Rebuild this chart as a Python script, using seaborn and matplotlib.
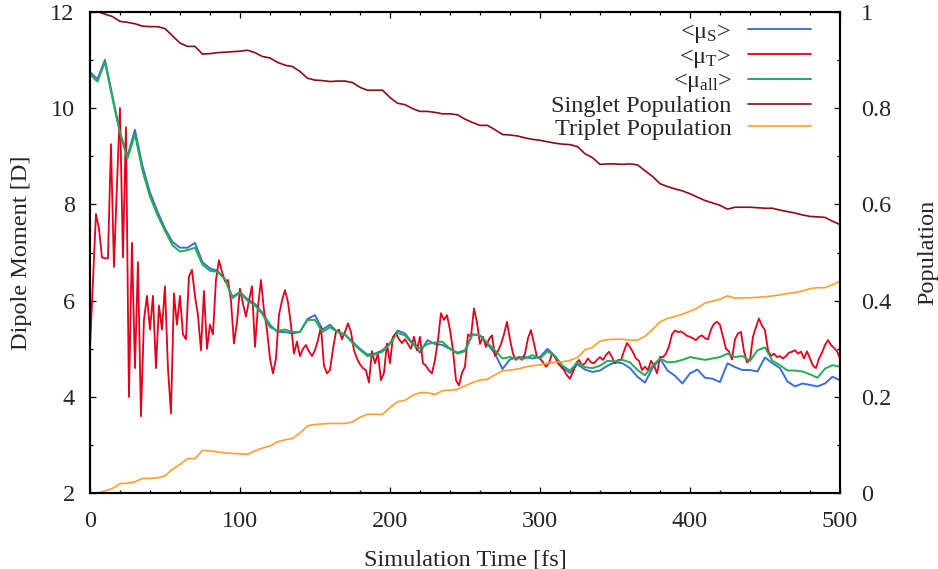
import numpy as np
import matplotlib
matplotlib.use("Agg")
import matplotlib.pyplot as plt
import seaborn as sns
from matplotlib.ticker import MultipleLocator, FuncFormatter

# Average dipole moments [D], sampled every 5 fs (singlet / all) and 2 fs (triplet)
mu_S = [
    10.75, 10.6, 11.0, 10.25, 9.5, 9.0, 9.55, 8.8, 8.25, 7.85,
    7.5, 7.22, 7.1, 7.1, 7.2, 6.8, 6.67, 6.62, 6.45, 6.08,
    6.18, 6.03, 5.93, 5.75, 5.5, 5.35, 5.35, 5.32, 5.35, 5.62,
    5.7, 5.4, 5.5, 5.35, 5.3, 5.15, 5.0, 4.88, 4.9, 4.97,
    5.12, 5.38, 5.32, 5.12, 4.92, 5.18, 5.1, 5.08, 5.0, 4.92,
    4.97, 5.3, 5.28, 5.1, 4.9, 4.58, 4.78, 4.82, 4.83, 4.8,
    4.83, 5.0, 4.85, 4.62, 4.5, 4.68, 4.57, 4.52, 4.55, 4.65,
    4.72, 4.7, 4.6, 4.42, 4.3, 4.6, 4.8, 4.55, 4.44, 4.28,
    4.49, 4.57, 4.4, 4.38, 4.31, 4.7, 4.62, 4.56, 4.56, 4.53,
    4.82, 4.7, 4.6, 4.32, 4.22, 4.28, 4.25, 4.22, 4.28, 4.42,
    4.35,
]

mu_T = [
    5.0, 6.4, 7.8, 7.5, 6.9, 6.88, 6.88, 9.25, 6.7, 8.4,
    10.0, 6.9, 9.6, 4.0, 7.2, 4.6, 6.8, 3.6, 5.6, 6.1,
    5.4, 6.1, 4.6, 5.9, 5.4, 6.3, 4.6, 3.66, 6.15, 5.5,
    6.1, 5.3, 5.2, 6.5, 6.64, 6.1, 5.7, 4.97, 6.2, 5.0,
    5.5, 5.3, 6.43, 6.84, 6.6, 6.4, 6.43, 6.0, 5.11, 5.55,
    6.25, 5.94, 5.67, 6.0, 6.3, 5.04, 5.87, 6.43, 5.8, 5.4,
    4.8, 4.49, 4.8, 5.7, 6.0, 6.22, 5.97, 5.5, 4.9, 5.15,
    4.85, 5.0, 5.08, 4.95, 4.85, 4.97, 5.18, 5.46, 4.65, 4.49,
    4.56, 5.0, 5.35, 5.4, 5.2, 5.35, 5.53, 5.35, 4.97, 4.8,
    4.68, 4.6, 4.55, 4.3, 4.95, 4.7, 4.9, 4.35, 4.5, 5.11,
    4.7, 5.25, 5.32, 5.2, 5.12, 5.2, 5.1, 5.0, 5.25, 4.97,
    5.25, 4.7, 4.65, 4.55, 4.49, 4.77, 5.18, 5.74, 5.6, 5.7,
    5.4, 4.97, 4.35, 4.24, 4.5, 4.63, 5.3, 5.25, 5.84, 5.55,
    5.1, 5.25, 5.04, 5.2, 5.28, 4.85, 4.95, 5.1, 5.3, 5.56,
    5.2, 4.9, 4.77, 4.83, 4.77, 4.9, 5.22, 5.39, 5.11, 4.83,
    4.8, 4.72, 4.63, 4.7, 4.9, 4.83, 4.7, 4.63, 4.56, 4.45,
    4.38, 4.52, 4.7, 4.77, 4.66, 4.7, 4.8, 4.72, 4.7, 4.77,
    4.83, 4.77, 4.87, 4.94, 4.83, 4.7, 4.77, 4.77, 4.95, 5.12,
    5.04, 4.93, 4.8, 4.75, 4.56, 4.63, 4.56, 4.75, 4.66, 4.49,
    4.83, 4.83, 4.9, 5.05, 5.3, 5.38, 5.35, 5.36, 5.32, 5.27,
    5.25, 5.22, 5.18, 5.25, 5.28, 5.22, 5.2, 5.4, 5.52, 5.56,
    5.5, 5.25, 5.0, 4.95, 4.78, 5.2, 5.32, 5.35, 4.95, 4.72,
    4.77, 5.25, 5.45, 5.63, 5.48, 5.39, 4.97, 4.85, 4.9, 4.83,
    4.85, 4.8, 4.85, 4.92, 4.94, 4.97, 4.9, 4.94, 4.8, 4.95,
    4.8, 4.65, 4.6, 4.8, 4.92, 5.08, 5.18, 5.08, 5.02, 4.95,
    4.8,
]

mu_all = [
    10.7, 10.55, 10.95, 10.2, 9.48, 8.95, 9.45, 8.7, 8.16, 7.78,
    7.45, 7.15, 7.02, 7.05, 7.1, 6.75, 6.62, 6.6, 6.45, 6.05,
    6.17, 6.0, 5.9, 5.72, 5.45, 5.38, 5.4, 5.35, 5.35, 5.6,
    5.6, 5.35, 5.45, 5.35, 5.3, 5.12, 4.98, 4.85, 4.88, 4.94,
    5.1, 5.33, 5.28, 5.1, 5.0, 5.1, 5.13, 5.15, 5.0, 4.9,
    4.95, 5.3, 5.28, 5.12, 4.97, 4.8, 4.83, 4.8, 4.8, 4.87,
    4.8, 4.95, 4.85, 4.65, 4.55, 4.72, 4.62, 4.6, 4.65, 4.75,
    4.74, 4.77, 4.72, 4.56, 4.45, 4.65, 4.8, 4.72, 4.73, 4.77,
    4.83, 4.8, 4.77, 4.8, 4.83, 4.9, 4.83, 4.85, 4.75, 4.97,
    5.03, 4.75, 4.66, 4.55, 4.55, 4.53, 4.47, 4.4, 4.59, 4.66,
    4.63,
]

# State populations, sampled every 5 fs
pop_singlet = [
    1.000, 1.000, 0.995, 0.990, 0.980, 0.978, 0.975, 0.970, 0.969, 0.969,
    0.965, 0.950, 0.935, 0.928, 0.928, 0.912, 0.913, 0.915, 0.916, 0.917,
    0.918, 0.920, 0.915, 0.907, 0.904, 0.895, 0.889, 0.886, 0.876, 0.862,
    0.858, 0.857, 0.855, 0.856, 0.856, 0.853, 0.843, 0.837, 0.837, 0.837,
    0.822, 0.810, 0.807, 0.799, 0.793, 0.793, 0.791, 0.788, 0.788, 0.786,
    0.777, 0.770, 0.764, 0.764, 0.755, 0.745, 0.744, 0.742, 0.738, 0.735,
    0.733, 0.730, 0.727, 0.725, 0.724, 0.720, 0.705, 0.697, 0.683, 0.684,
    0.684, 0.683, 0.684, 0.682, 0.670, 0.658, 0.643, 0.637, 0.632, 0.628,
    0.622, 0.615, 0.608, 0.603, 0.598, 0.590, 0.594, 0.594, 0.594, 0.593,
    0.592, 0.592, 0.588, 0.585, 0.582, 0.578, 0.575, 0.574, 0.573, 0.565,
    0.558,
]

pop_triplet = [
    0.000, 0.000, 0.005, 0.010, 0.020, 0.021, 0.024, 0.031, 0.031, 0.032,
    0.036, 0.050, 0.060, 0.072, 0.072, 0.089, 0.088, 0.086, 0.084, 0.083,
    0.082, 0.081, 0.088, 0.094, 0.098, 0.107, 0.111, 0.114, 0.125, 0.140,
    0.143, 0.144, 0.145, 0.145, 0.145, 0.148, 0.158, 0.164, 0.164, 0.164,
    0.178, 0.190, 0.193, 0.203, 0.209, 0.209, 0.205, 0.213, 0.214, 0.216,
    0.223, 0.230, 0.235, 0.237, 0.246, 0.254, 0.256, 0.258, 0.262, 0.265,
    0.267, 0.270, 0.272, 0.273, 0.276, 0.282, 0.298, 0.303, 0.316, 0.319,
    0.320, 0.320, 0.318, 0.318, 0.326, 0.340, 0.356, 0.363, 0.367, 0.372,
    0.378, 0.385, 0.395, 0.399, 0.403, 0.410, 0.405, 0.406, 0.406, 0.407,
    0.408, 0.410, 0.412, 0.415, 0.417, 0.420, 0.425, 0.427, 0.427, 0.433,
    0.440,
]

T_END = 500.0
series_labels = [
    r"<$\mathrm{\mu_{S}}$>",
    r"<$\mathrm{\mu_{T}}$>",
    r"<$\mathrm{\mu_{all}}$>",
    "Singlet Population",
    "Triplet Population",
]
colors = ["#3d6fd1", "#e2001c", "#23ad52", "#8c0c14", "#ff9e2c"]

sns.set_theme(style="ticks")
plt.rcParams["font.family"] = ["Liberation Serif", "DejaVu Serif"]
plt.rcParams["mathtext.fontset"] = "custom"
plt.rcParams["mathtext.rm"] = "Liberation Serif"
plt.rcParams["mathtext.it"] = "Liberation Serif:italic"
plt.rcParams["axes.linewidth"] = 1.5
plt.rcParams["axes.edgecolor"] = "black"

FS = 17.5

fig = plt.figure(figsize=(9.38, 5.69), dpi=100)
ax = fig.add_axes([0.0959, 0.133, 0.7996, 0.8464])
ax2 = ax.twinx()


def time_axis(values):
    return np.linspace(0.0, T_END, len(values))


handles = []
for vals, col, lw in [(mu_S, colors[0], 1.4), (mu_T, colors[1], 1.3), (mu_all, colors[2], 1.4)]:
    sns.lineplot(x=time_axis(vals), y=vals, ax=ax, color=col, linewidth=lw,
                 estimator=None, errorbar=None, legend=False)
    handles.append(ax.lines[-1])

for vals, col in [(pop_singlet, colors[3]), (pop_triplet, colors[4])]:
    sns.lineplot(x=time_axis(vals), y=vals, ax=ax2, color=col, linewidth=1.2,
                 estimator=None, errorbar=None, legend=False)
    handles.append(ax2.lines[-1])

ax.set_xlim(0, 500)
ax.set_ylim(2, 12)
ax2.set_ylim(0, 1)

ax.xaxis.set_major_locator(MultipleLocator(100))
ax.xaxis.set_minor_locator(MultipleLocator(20))
ax.yaxis.set_major_locator(MultipleLocator(2))
ax.yaxis.set_minor_locator(MultipleLocator(1))
ax2.yaxis.set_major_locator(MultipleLocator(0.2))
ax2.yaxis.set_minor_locator(MultipleLocator(0.1))
ax2.yaxis.set_major_formatter(FuncFormatter(lambda v, _: f"{v:g}"))

ax.tick_params(axis="x", which="both", direction="in", top=True, bottom=True,
               color="black", labelsize=FS, pad=13)
ax.tick_params(axis="y", which="both", direction="in", left=True, right=False,
               color="black", labelsize=FS, pad=11)
ax2.tick_params(axis="y", which="both", direction="in", left=False, right=True,
                color="black", labelsize=FS, pad=15)
for a in (ax, ax2):
    a.tick_params(which="major", length=4.5, width=0.9)
    a.tick_params(which="minor", length=2.5, width=0.9)
    for s in a.spines.values():
        s.set_visible(True)
        s.set_linewidth(1.5)
        s.set_color("black")

ax.set_xlabel("Simulation Time [fs]", fontsize=FS, labelpad=12)
ax.set_ylabel("Dipole Moment [D]", fontsize=FS, labelpad=13)
ax2.set_ylabel("Population", fontsize=FS, labelpad=19)

leg = ax2.legend(handles, series_labels, loc="upper right",
                 bbox_to_anchor=(0.961, 0.981), frameon=False, fontsize=FS,
                 markerfirst=False, handlelength=2.6, handletextpad=0.65,
                 borderpad=0, borderaxespad=0, labelspacing=0.03)

fig.savefig("out.png", dpi=100, facecolor="white")
